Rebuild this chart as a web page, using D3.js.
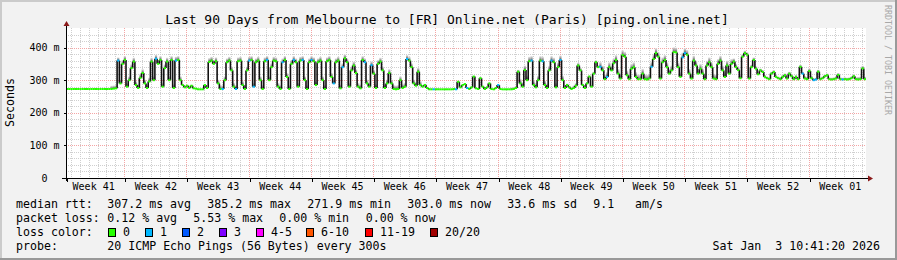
<!DOCTYPE html>
<html>
<head>
<meta charset="utf-8">
<script src="https://cdn.jsdelivr.net/npm/d3@7"></script>
<style>
  body { margin: 0; background: #f2f2f2; }
  svg text { font-family: "DejaVu Sans Mono", monospace; white-space: pre; }
</style>
</head>
<body>
<div id="chart"></div>
<script>
// median rtt in ms, one sample every 6 hours (90 days -> 360 samples)
const rtt = [
  273,273,273,273,273,273,273,273,273,273,
  273,273,273,273,273,273,273,273,273,273,
  273,274,275,360,290,350,362,280,300,337,
  357,285,276,307,322,290,276,296,357,300,
  366,350,362,280,337,357,300,362,276,360,
  362,300,285,278,283,276,283,275,274,272,
  272,272,285,276,356,360,350,358,290,273,
  273,300,355,360,330,280,273,358,360,285,
  273,330,360,362,280,355,360,300,273,358,
  362,300,340,360,358,280,273,355,362,310,
  273,350,362,355,280,360,362,300,273,355,
  362,358,285,355,360,300,273,358,362,310,
  290,355,360,275,340,367,355,280,330,345,
  322,280,275,362,355,290,280,346,320,276,
  350,357,330,276,290,322,290,273,272,273,
  300,276,280,365,360,340,290,283,326,285,
  280,285,276,272,272,272,272,272,272,272,
  272,272,272,272,273,272,295,278,285,288,
  276,273,278,311,275,273,306,280,273,278,
  290,273,272,276,285,273,272,272,272,272,
  272,273,276,326,290,280,331,300,358,360,
  285,278,300,360,358,285,276,330,360,355,
  278,340,362,300,276,285,278,273,276,283,
  345,330,285,276,290,311,280,320,355,340,
  341,330,303,310,340,330,352,362,320,305,
  377,372,315,303,335,340,310,303,303,320,
  303,302,305,341,365,383,372,305,355,362,
  340,320,330,386,385,340,310,370,383,378,
  320,305,360,345,320,335,320,303,345,355,
  340,305,303,350,360,330,310,345,320,350,
  357,340,331,306,372,383,378,305,340,362,
  335,318,330,325,310,306,303,320,325,310,
  306,303,310,315,305,320,312,303,310,303,
  341,320,305,303,328,306,300,302,326,303,
  306,312,315,303,302,303,305,316,303,302,
  303,302,303,306,312,303,302,303,336,303
];

// samples that lost 1 of 20 pings (drawn blue)
const lossOne = [23,40,49,70,76,82,84,90,97,102,106,110,120,124,134,137,153,165,175,
  180,194,209,214,218,222,240,243,263,277,278,331,336,337,349];

// height of the smoke above the median, per day (ms)
const smokeByDay = [
  0,0,0,0,0,10,12,12,12,12,
  12,12,12,3,2,2,12,12,12,12,
  12,12,12,12,12,12,12,12,12,12,
  12,12,12,12,12,12,12,12,12,12,
  4,3,2,2,2,3,3,2,2,2,
  6,14,14,14,14,14,5,8,4,6,
  15,15,15,15,15,15,15,15,15,15,
  15,15,15,15,15,10,8,8,6,6,
  6,6,6,8,6,6,6,6,6,8
];

const yTicks = [0, 100, 200, 300, 400];
const lossLabels = ["0", "1", "2", "3", "4-5", "6-10", "11-19", "20/20"];
const lossColors = ["#26ff00", "#00b8ff", "#0059ff", "#7e00ff", "#ff00ff", "#ff5500", "#ff0000", "#a00000"];
const lossSwatchX = [108.5, 145.5, 182.5, 219.5, 256.5, 306.5, 365.5, 430.5];

const statsRtt = ["307.2 ms avg", "385.2 ms max", "271.9 ms min", "303.0 ms now", "33.6 ms sd", "9.1", "am/s"];
const statsRttX = [107.3, 207.3, 307.3, 407.3, 507.3, 593.3, 635];
const statsLoss = ["0.12 % avg", "5.53 % max", "0.00 % min", "0.00 % now"];
const statsLossX = [107.3, 193.3, 279.3, 365.7];

const width = 897, height = 260;
const plot = { left: 66, right: 866, top: 28, bottom: 178 };

const tEnd = new Date(Date.UTC(2026, 0, 3, 10, 41, 20));
const tStart = d3.utcDay.offset(tEnd, -90);
const step = 6 * 3600 * 1000;

const x = d3.scaleUtc().domain([tStart, tEnd]).range([plot.left, plot.right]);
const y = d3.scaleLinear().domain([0, 460]).range([plot.bottom, plot.top]);

const svg = d3.select("#chart").append("svg")
  .attr("width", width).attr("height", height);

// background + 3d frame
svg.append("rect").attr("width", width).attr("height", height).attr("fill", "#f2f2f2");
svg.append("path").attr("d", `M0,${height} V0 H${width}`).attr("stroke", "#cbcbcb").attr("stroke-width", 4).attr("fill", "none");
svg.append("path").attr("d", `M0,${height} H${width} V0`).attr("stroke", "#999").attr("stroke-width", 4).attr("fill", "none");

svg.append("rect")
  .attr("x", plot.left).attr("y", plot.top)
  .attr("width", plot.right - plot.left).attr("height", plot.bottom - plot.top)
  .attr("fill", "#fff");

const defs = svg.append("defs");
const grad = defs.append("linearGradient").attr("id", "smoke")
  .attr("x1", 0).attr("y1", 1).attr("x2", 0).attr("y2", 0);
grad.append("stop").attr("offset", "0%").attr("stop-color", "#333");
grad.append("stop").attr("offset", "45%").attr("stop-color", "#888");
grad.append("stop").attr("offset", "100%").attr("stop-color", "#e6e6e6");

// grid
const grid = svg.append("g").attr("shape-rendering", "crispEdges").attr("fill", "none");
const minorH = d3.range(20, 460, 20).filter(v => v % 100 !== 0);
const days = d3.utcDay.range(tStart, tEnd);
const weeks = d3.utcSunday.range(tStart, tEnd);

grid.selectAll(".vmin").data(days).join("line")
  .attr("x1", d => Math.round(x(d)) + 0.5).attr("x2", d => Math.round(x(d)) + 0.5)
  .attr("y1", plot.top).attr("y2", plot.bottom)
  .attr("stroke", "#cfcfcf").attr("stroke-dasharray", "1,1");
grid.selectAll(".hmin").data(minorH).join("line")
  .attr("x1", plot.left).attr("x2", plot.right)
  .attr("y1", d => Math.round(y(d)) + 0.5).attr("y2", d => Math.round(y(d)) + 0.5)
  .attr("stroke", "#cfcfcf").attr("stroke-dasharray", "1,1");
grid.selectAll(".vmaj").data(weeks).join("line")
  .attr("x1", d => Math.round(x(d)) + 0.5).attr("x2", d => Math.round(x(d)) + 0.5)
  .attr("y1", plot.top).attr("y2", plot.bottom)
  .attr("stroke", "#f4a5a5").attr("stroke-dasharray", "1,1");
grid.selectAll(".hmaj").data(yTicks.slice(1)).join("line")
  .attr("x1", plot.left).attr("x2", plot.right)
  .attr("y1", d => Math.round(y(d)) + 0.5).attr("y2", d => Math.round(y(d)) + 0.5)
  .attr("stroke", "#f4a5a5").attr("stroke-dasharray", "1,1");

// data
const samples = rtt.map((v, i) => ({
  i, v,
  t0: new Date(tStart.getTime() + i * step),
  t1: new Date(tStart.getTime() + (i + 1) * step),
  smoke: smokeByDay[Math.floor(i / 4)],
  color: lossOne.includes(i) ? lossColors[1] : lossColors[0]
}));

const data = svg.append("g");
data.selectAll(".smoke").data(samples.filter(d => d.smoke > 0)).join("rect")
  .attr("x", d => x(d.t0)).attr("width", d => x(d.t1) - x(d.t0))
  .attr("y", d => y(d.v + d.smoke)).attr("height", d => y(d.v) - y(d.v + d.smoke))
  .attr("fill", "url(#smoke)").attr("opacity", 0.85);

data.selectAll(".vert").data(samples.slice(1)).join("line")
  .attr("x1", d => x(d.t0)).attr("x2", d => x(d.t0))
  .attr("y1", d => y(rtt[d.i - 1])).attr("y2", d => y(d.v))
  .attr("stroke", "#111").attr("stroke-width", 1.6);

data.selectAll(".med").data(samples).join("line")
  .attr("x1", d => x(d.t0)).attr("x2", d => x(d.t1))
  .attr("y1", d => y(d.v)).attr("y2", d => y(d.v))
  .attr("stroke", d => d.color).attr("stroke-width", 2);

// axes
const yAxis = svg.append("g").attr("transform", `translate(${plot.left + 0.5},0)`)
  .call(d3.axisLeft(y).tickValues(yTicks).tickSize(3).tickPadding(4)
    .tickFormat(d => d ? d + " m" : "0"));
yAxis.select(".domain").remove();
yAxis.selectAll("text").attr("font-size", 10).attr("fill", "#000")
  .attr("font-family", "DejaVu Sans Mono")
  .attr("dx", d => d ? 0 : -12);
yAxis.selectAll("line").attr("stroke", "#000").attr("shape-rendering", "crispEdges");

const xAxis = svg.append("g").attr("transform", `translate(0,${plot.bottom + 0.5})`)
  .call(d3.axisBottom(x).tickValues([tStart, ...weeks]).tickSize(3).tickFormat(""));
xAxis.select(".domain").remove();
xAxis.selectAll("line").attr("stroke", "#000").attr("shape-rendering", "crispEdges")
  .attr("transform", d => `translate(${Math.round(x(d)) + 0.5 - x(d)},0)`);

const labelTimes = [d3.utcSunday.offset(weeks[0], -1), ...weeks]
  .map(d => new Date(d.getTime() + 3.5 * 864e5))
  .filter(d => d > tStart && d < tEnd);
const xLabels = svg.append("g").attr("transform", `translate(0,${plot.bottom})`)
  .call(d3.axisBottom(x).tickValues(labelTimes).tickSize(0).tickPadding(5)
    .tickFormat(d => "Week " + d3.utcFormat("%V")(d)));
xLabels.select(".domain").remove();
xLabels.selectAll("text").attr("font-size", 10).attr("fill", "#000")
  .attr("font-family", "DejaVu Sans Mono");

// axis lines with arrows
svg.append("line").attr("x1", plot.left + 0.5).attr("x2", plot.left + 0.5)
  .attr("y1", plot.bottom + 3).attr("y2", 25).attr("stroke", "#000").attr("shape-rendering", "crispEdges");
svg.append("line").attr("x1", plot.left - 4).attr("x2", plot.right + 3)
  .attr("y1", plot.bottom + 0.5).attr("y2", plot.bottom + 0.5).attr("stroke", "#000").attr("shape-rendering", "crispEdges");
svg.append("path").attr("d", `M${plot.left - 2.5},26 L${plot.left + 0.5},21 L${plot.left + 3.5},26 Z`).attr("fill", "#8b1a1a");
svg.append("path").attr("d", `M${plot.right + 2},${plot.bottom - 2.5} L${plot.right + 7},${plot.bottom + 0.5} L${plot.right + 2},${plot.bottom + 3.5} Z`).attr("fill", "#8b1a1a");

// titles
svg.append("text").attr("x", 447).attr("y", 24).attr("text-anchor", "middle")
  .attr("font-size", 13).attr("fill", "#000")
  .text("Last 90 Days from Melbourne to [FR] Online.net (Paris) [ping.online.net]");
svg.append("text").attr("transform", "translate(14,102.5) rotate(-90)")
  .attr("text-anchor", "middle").attr("font-size", 11.6).attr("fill", "#000").text("Seconds");
svg.append("text").attr("transform", "translate(885,60) rotate(90)")
  .attr("text-anchor", "middle").attr("font-size", 8.3).attr("fill", "#a8a8a8").text("RRDTOOL / TOBI OETIKER");

// legend
const legend = svg.append("g").attr("font-size", 11.6).attr("fill", "#000");
legend.append("text").attr("x", 16).attr("y", 208).text("median rtt:");
legend.selectAll(".sr").data(statsRtt).join("text")
  .attr("x", (d, i) => statsRttX[i]).attr("y", 208).text(d => d);
legend.append("text").attr("x", 16).attr("y", 222).text("packet loss:");
legend.selectAll(".sl").data(statsLoss).join("text")
  .attr("x", (d, i) => statsLossX[i]).attr("y", 222).text(d => d);
legend.append("text").attr("x", 16).attr("y", 236).text("loss color:");
legend.selectAll(".sw").data(lossLabels).join("rect")
  .attr("x", (d, i) => lossSwatchX[i]).attr("y", 228.5).attr("width", 7).attr("height", 8)
  .attr("fill", (d, i) => lossColors[i]).attr("stroke", "#000").attr("shape-rendering", "crispEdges");
legend.selectAll(".lt").data(lossLabels).join("text")
  .attr("x", (d, i) => lossSwatchX[i] + 14.5).attr("y", 236).text(d => d);
legend.append("text").attr("x", 16).attr("y", 250).text("probe:");
legend.append("text").attr("x", 107.3).attr("y", 250).text("20 ICMP Echo Pings (56 Bytes) every 300s");
legend.append("text").attr("x", 880).attr("y", 250).attr("text-anchor", "end").text("Sat Jan  3 10:41:20 2026");
</script>
</body>
</html>
